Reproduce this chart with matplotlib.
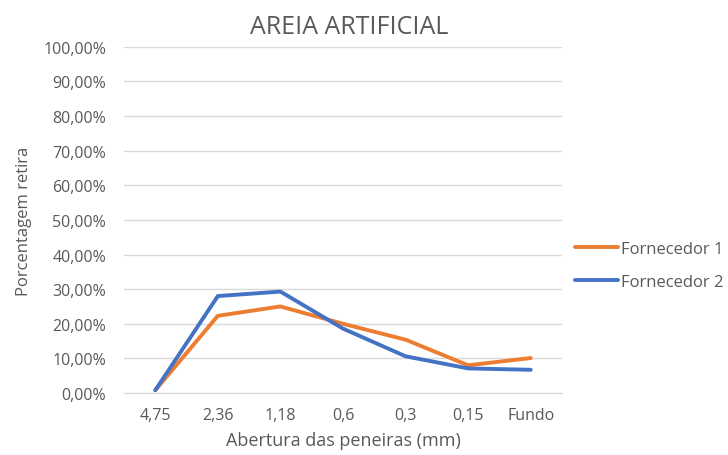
import matplotlib
matplotlib.use("Agg")
import matplotlib.pyplot as plt
from matplotlib.ticker import FuncFormatter

peneiras = ["4,75", "2,36", "1,18", "0,6", "0,3", "0,15", "Fundo"]
fornecedor_1 = [0.8, 22.3, 25.0, 20.0, 15.4, 8.0, 10.1]
fornecedor_2 = [0.8, 28.0, 29.3, 18.6, 10.6, 7.1, 6.7]

plt.rcParams["font.family"] = ["Open Sans", "DejaVu Sans"]
text_color = "#595959"
grid_color = "#D9D9D9"

fig = plt.figure(figsize=(7.28, 4.56), dpi=100)
ax = fig.add_axes([0.1703, 0.136, 0.6017, 0.759])

x = list(range(len(peneiras)))
ax.plot(x, [v / 100 for v in fornecedor_1], color="#ED7D31", lw=2.8,
        label="Fornecedor 1", solid_joinstyle="round", solid_capstyle="round")
ax.plot(x, [v / 100 for v in fornecedor_2], color="#4472C4", lw=2.8,
        label="Fornecedor 2", solid_joinstyle="round", solid_capstyle="round")

ax.set_xlim(-0.5, len(peneiras) - 0.5)
ax.set_ylim(0, 1.0)
ax.set_yticks([i / 10 for i in range(11)])
ax.yaxis.set_major_formatter(FuncFormatter(lambda v, p: f"{v * 100:.2f}%".replace(".", ",")))
ax.set_xticks(x)
ax.set_xticklabels(peneiras)
ax.grid(axis="y", color=grid_color, lw=1)
ax.set_axisbelow(True)
for s in ["top", "right", "left"]:
    ax.spines[s].set_visible(False)
ax.spines["bottom"].set_color(grid_color)
ax.tick_params(axis="both", length=0, labelsize=11.5, colors=text_color)
ax.tick_params(axis="y", pad=13)
ax.tick_params(axis="x", pad=10)

fig.text(349 / 728, 1 - 28 / 456, "AREIA ARTIFICIAL", fontsize=18,
         color=text_color, ha="center", va="center")
ax.set_xlabel("Abertura das peneiras (mm)", fontsize=13, color=text_color, labelpad=6)
ax.set_ylabel("Porcentagem retira", fontsize=12, color=text_color, labelpad=8)

fig.legend(loc="center left", bbox_to_anchor=(0.769, 0.416), frameon=False,
           fontsize=12, labelcolor=text_color, handlelength=2.6,
           handletextpad=0.15, labelspacing=1.05)

fig.savefig("out.png", dpi=100)
